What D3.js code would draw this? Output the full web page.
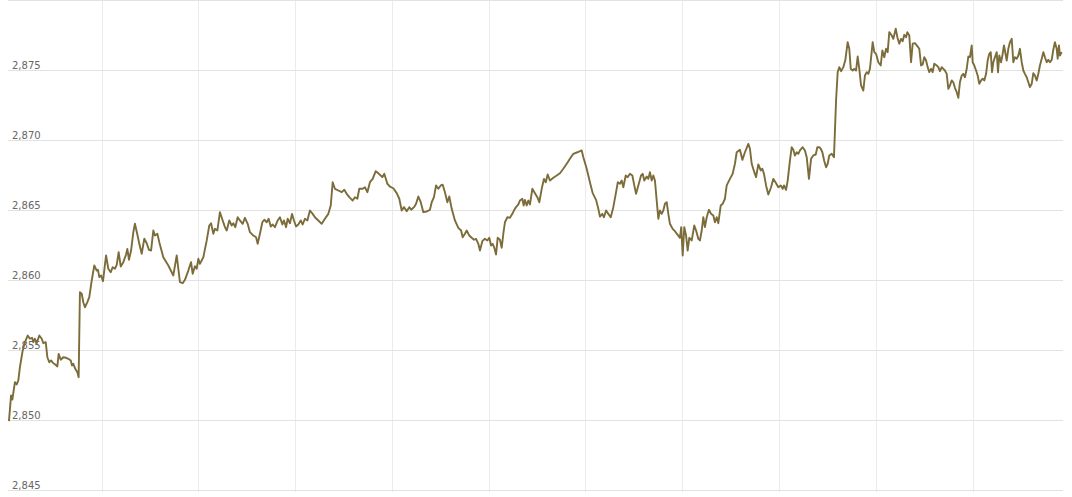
<!DOCTYPE html>
<html>
<head>
<meta charset="utf-8">
<script src="https://cdn.jsdelivr.net/npm/d3@7"></script>
<style>
  html, body { margin: 0; padding: 0; background: #fff; }
  svg { display: block; }
</style>
</head>
<body>
<div id="chart"></div>
<script>
// Minutes after 09:00
const minutes = [2.6,3.9,4.7,6.3,7.4,8.4,9.4,11.1,12.5,14.2,15.6,16.9,17.7,18.6,19.8,21.4,22.9,23.9,25.4,26.4,27.6,28.7,30.1,31.3,32.6,33.4,34.7,36.3,38.0,39.4,40.9,41.7,42.5,43.7,45.0,45.8,46.6,47.7,48.7,49.7,51.2,52.4,53.9,55.5,57.0,57.8,58.6,59.7,60.9,62.8,64.2,65.7,66.9,68.3,69.4,70.6,71.9,73.5,75.2,76.0,77.0,78.3,79.7,80.7,82.2,83.4,84.9,86.5,88.0,89.4,90.7,92.1,93.1,94.6,95.8,98.3,101.4,104.5,106.6,108.6,110.3,111.7,113.8,115.5,116.5,117.9,119.0,120.0,121.0,123.1,125.2,126.8,127.9,129.3,130.3,131.8,133.4,135.1,136.5,137.6,139.2,140.7,141.7,142.9,144.4,145.8,147.5,148.9,150.6,152.0,154.1,155.8,156.8,158.2,159.7,160.9,162.4,163.6,164.9,166.1,167.5,169.2,170.6,172.1,173.1,174.4,175.4,176.8,178.1,179.3,180.6,182.0,183.5,184.7,186.1,187.6,189.2,190.9,192.3,194.4,196.5,198.5,200.6,202.1,203.3,204.7,206.8,208.9,210.5,212.0,213.6,215.7,217.1,218.6,219.8,221.9,223.3,224.8,226.4,228.1,230.0,231.6,234.1,235.3,237.2,238.8,240.9,243.0,244.6,246.1,247.5,249.2,250.8,252.0,253.7,255.0,256.4,257.9,259.5,261.6,263.6,264.7,266.1,267.4,268.8,270.3,271.5,272.9,274.4,275.6,277.1,279.1,281.2,282.9,283.9,285.3,286.4,288.0,289.5,290.9,292.2,293.6,294.6,296.1,297.7,299.2,300.4,301.5,302.5,303.5,304.6,305.6,307.0,308.1,309.1,310.1,311.6,313.2,314.7,315.9,317.0,318.4,319.4,320.9,321.7,322.5,323.6,324.6,325.6,327.1,328.7,330.2,331.4,332.9,334.3,335.4,336.6,338.0,340.1,342.2,344.2,346.3,348.4,350.4,352.5,355.0,357.7,358.7,360.8,362.8,364.5,366.6,368.0,369.0,370.5,371.5,372.8,374.2,375.7,377.3,378.8,380.1,381.4,382.5,383.5,385.0,386.2,387.6,389.1,390.3,391.4,392.8,394.5,395.5,396.5,398.0,399.0,400.0,401.1,402.1,403.1,404.2,405.2,406.2,407.3,408.3,409.3,410.4,411.4,412.4,414.1,415.5,417.0,418.6,419.4,420.3,421.3,422.4,423.4,424.4,425.9,427.5,428.6,430.0,431.0,432.1,433.1,434.1,435.2,436.6,437.9,439.3,440.3,441.4,442.4,443.9,445.1,446.5,447.6,449.6,451.3,452.7,453.8,455.8,457.3,458.9,461.0,462.0,463.1,464.5,465.8,467.2,468.7,469.7,470.7,472.0,473.4,475.1,476.5,478.2,479.6,481.1,482.3,483.1,484.4,485.4,486.8,487.9,488.9,489.9,491.0,492.0,493.0,494.7,496.1,497.2,498.6,499.9,501.3,502.8,503.8,505.0,505.9,506.9,508.0,509.2,510.2,511.2,512.7,514.1,515.4,516.4,517.4,518.5,519.9,521.1,522.6,523.6,524.5,525.7,526.7,527.8,528.8,529.8,530.9,532.3,533.3,534.4,535.4,536.4,538.1,539.1,540.2,541.6,543.1,544.1,545.3,546.4,547.4,548.4,549.9,550.9,552.4,553.4,554.6,555.7,556.7,557.7,558.8,559.6,560.8,561.9,562.9,564.3,565.8,567.0,568.1,569.1,570.1,571.2,572.2,573.2,574.3,575.3,576.3,577.8,578.8,579.8,580.9,581.9,582.9,584.0,585.0,586.0,587.1,588.1,589.1,590.2,591.2,592.2,593.3,594.3,595.3,596.4,597.4,598.4,599.5,600.1,601.1,602.2,603.2,604.2,605.3,606.3,607.3,608.4,609.4,610.4,611.3,612.1,612.9,613.9,615.0,615.8,616.6,617.7,618.7,619.5,620.1,621.2,622.2,623.2,624.3,625.3,626.3,627.4,628.4,629.4,630.5,631.5,632.5,633.6,634.6,635.6,636.7,637.7,638.7,639.8,640.8,641.8,642.9,643.9,644.9,646.0,647.0,648.0,649.1,650.0,651.1,652.2,652.8,653.6,654.2,655.3];

const prices = [2849.95,2851.79,2851.50,2852.74,2852.57,2852.86,2853.81,2855.00,2855.59,2856.07,2855.84,2855.91,2855.59,2855.84,2855.52,2856.07,2855.84,2855.52,2855.59,2854.52,2854.16,2854.29,2854.09,2854.00,2853.86,2854.76,2854.34,2854.52,2854.48,2854.41,2854.29,2853.93,2854.05,2853.69,2853.45,2853.09,2859.16,2859.05,2858.45,2858.09,2858.45,2858.81,2860.00,2861.07,2860.71,2860.76,2860.24,2860.36,2859.95,2861.79,2860.84,2860.59,2860.95,2860.84,2861.12,2862.02,2861.00,2861.31,2861.86,2862.26,2861.48,2862.14,2863.45,2864.05,2863.29,2862.62,2861.91,2862.98,2862.66,2862.19,2862.14,2863.57,2863.21,2863.34,2862.74,2861.66,2861.07,2860.36,2861.79,2859.88,2859.81,2860.05,2860.71,2861.31,2860.48,2861.02,2860.84,2861.55,2861.19,2861.66,2862.86,2863.93,2864.09,2863.34,2863.69,2863.57,2864.88,2864.29,2863.81,2863.57,2864.29,2863.93,2864.09,2863.81,2864.52,2864.29,2864.05,2864.48,2864.05,2863.45,2863.21,2863.09,2862.62,2863.34,2864.16,2864.34,2864.16,2864.41,2863.86,2864.00,2863.81,2864.29,2864.52,2864.00,2864.29,2863.81,2864.41,2864.09,2864.76,2864.29,2863.86,2864.00,2864.29,2864.00,2864.41,2864.29,2865.00,2864.76,2864.52,2864.29,2864.05,2864.41,2864.76,2865.36,2867.02,2866.55,2866.43,2866.31,2866.48,2866.19,2865.95,2865.71,2865.95,2865.84,2866.55,2866.55,2866.66,2866.31,2867.02,2867.26,2867.81,2867.66,2867.38,2867.62,2866.91,2866.71,2866.59,2866.24,2865.84,2865.00,2865.24,2864.95,2865.24,2865.05,2865.24,2865.48,2866.00,2865.59,2864.88,2864.93,2865.05,2865.59,2865.95,2866.79,2866.55,2866.79,2866.84,2866.31,2865.59,2866.00,2865.12,2864.29,2863.76,2863.57,2863.09,2863.34,2863.57,2863.21,2863.05,2862.91,2862.98,2862.62,2862.14,2862.81,2862.98,2862.86,2863.05,2862.50,2862.62,2862.34,2861.86,2863.05,2862.91,2862.34,2863.34,2864.16,2864.52,2864.48,2864.76,2865.05,2865.24,2865.43,2865.71,2865.84,2865.36,2865.76,2865.36,2865.71,2865.43,2866.55,2866.24,2865.95,2865.59,2866.55,2867.26,2867.02,2867.57,2867.14,2867.34,2867.50,2867.66,2867.98,2868.34,2868.69,2869.05,2869.16,2869.29,2868.81,2867.98,2867.02,2866.24,2865.76,2865.12,2864.57,2864.76,2864.52,2865.00,2864.76,2864.52,2865.24,2866.19,2867.02,2866.91,2867.14,2866.66,2867.50,2867.38,2867.62,2867.50,2866.79,2866.19,2866.79,2867.50,2867.62,2867.14,2867.43,2867.26,2867.74,2867.14,2867.50,2867.14,2865.71,2864.41,2865.00,2864.76,2865.00,2865.48,2865.59,2864.76,2864.05,2863.69,2863.52,2863.29,2863.05,2863.81,2861.79,2863.81,2863.21,2862.14,2863.05,2862.86,2863.93,2863.57,2862.98,2862.86,2863.57,2864.52,2863.81,2864.52,2865.05,2864.76,2864.64,2864.16,2864.52,2864.09,2865.36,2865.48,2865.84,2866.79,2867.26,2867.62,2868.34,2869.16,2869.34,2868.62,2869.16,2869.76,2869.41,2868.34,2867.81,2867.38,2868.29,2867.86,2867.98,2867.62,2866.79,2866.14,2866.66,2867.26,2866.95,2866.66,2866.79,2866.55,2866.79,2866.48,2867.14,2868.57,2869.52,2869.34,2868.93,2869.16,2869.05,2869.29,2869.52,2869.29,2868.81,2867.26,2868.69,2868.93,2869.00,2869.52,2869.52,2869.41,2869.16,2868.57,2868.09,2868.34,2868.93,2869.05,2868.81,2872.86,2874.88,2875.24,2874.95,2875.24,2875.71,2877.02,2876.55,2875.12,2875.00,2875.12,2875.00,2876.00,2875.12,2873.93,2873.57,2874.64,2874.88,2874.76,2875.12,2877.02,2876.31,2876.19,2875.59,2875.36,2876.43,2875.95,2876.55,2876.31,2877.74,2877.50,2877.26,2877.98,2877.38,2876.91,2877.26,2877.09,2877.55,2877.38,2877.74,2877.50,2875.59,2876.91,2876.95,2876.74,2876.55,2875.36,2875.43,2875.95,2875.71,2875.24,2874.88,2875.12,2874.88,2875.48,2875.36,2875.24,2874.95,2875.24,2875.12,2875.00,2874.76,2873.69,2873.93,2874.29,2874.16,2873.76,2873.45,2873.05,2874.16,2874.64,2874.76,2874.52,2875.12,2876.00,2875.95,2876.79,2875.59,2875.36,2875.00,2874.64,2874.05,2874.29,2874.41,2874.29,2874.76,2875.71,2876.19,2876.31,2874.88,2875.59,2875.95,2876.31,2874.88,2876.07,2875.59,2876.19,2876.79,2876.43,2875.71,2876.55,2877.02,2877.26,2875.59,2875.95,2875.84,2876.07,2876.55,2875.59,2875.00,2874.76,2874.52,2874.16,2873.81,2874.05,2874.81,2874.64,2874.29,2874.76,2875.36,2875.84,2876.31,2875.95,2875.59,2875.76,2875.59,2875.76,2876.43,2877.02,2876.55,2875.84,2876.79,2876.07,2876.31];

const yTicks = [2845, 2850, 2855, 2860, 2865, 2870, 2875, 2880];
const yLabels = [2845, 2850, 2855, 2860, 2865, 2870, 2875];
const xGridMinutes = [60, 120, 180, 240, 300, 360, 420, 480, 540, 600];

(function () {
  const W = 1072, H = 497;
  const padL = 8, padR = 1063, padT = 0.5, padB = 490.5;

  const svg = d3.select("#chart").append("svg").attr("width", W).attr("height", H);

  const x = d3.scaleLinear().domain([2, 656.1]).range([padL, padR]);
  const y = d3.scaleLinear().domain([2845, 2880]).range([padB, padT]);

  // vertical grid
  svg.append("g")
    .selectAll("line").data(xGridMinutes).join("line")
    .attr("x1", d => Math.round(x(d)) + 0.5).attr("x2", d => Math.round(x(d)) + 0.5)
    .attr("y1", 0).attr("y2", 492)
    .attr("stroke", "#ebebeb").attr("stroke-width", 1);

  // horizontal grid
  svg.append("g")
    .selectAll("line").data(yTicks).join("line")
    .attr("x1", padL).attr("x2", padR)
    .attr("y1", d => y(d)).attr("y2", d => y(d))
    .attr("stroke", "#e2e2e2").attr("stroke-width", 1);

  // labels
  const fmt = d3.format(",");
  svg.append("g")
    .selectAll("text").data(yLabels).join("text")
    .attr("x", 12).attr("y", d => y(d) - 1.5)
    .attr("font-family", "DejaVu Sans, Verdana, sans-serif")
    .attr("font-size", 10)
    .attr("fill", "#666")
    .text(d => fmt(d));

  const data = minutes.map((m, i) => ({ m, v: prices[i] }));
  const line = d3.line().x(d => x(d.m)).y(d => y(d.v));

  svg.append("path")
    .datum(data)
    .attr("d", line)
    .attr("fill", "none")
    .attr("stroke", "#7b6c3a")
    .attr("stroke-width", 1.9)
    .attr("stroke-linejoin", "round");
})();
</script>
</body>
</html>
